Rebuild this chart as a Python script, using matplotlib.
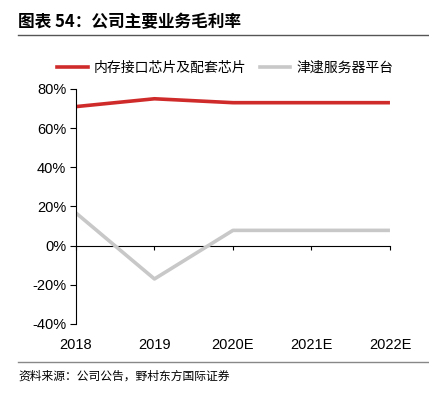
import matplotlib.pyplot as plt
from matplotlib.lines import Line2D

plt.rcParams['font.family'] = ['Liberation Sans', 'Noto Sans CJK SC', 'DejaVu Sans']

years = ['2018', '2019', '2020E', '2021E', '2022E']
memory_chip = [71.0, 75.0, 73.0, 73.0, 73.0]
jintide = [16.7, -17.0, 7.8, 7.8, 7.8]
yticks = [-40, -20, 0, 20, 40, 60, 80]

red = '#D02B2B'
grey = '#C8C8C8'

fig = plt.figure(figsize=(4.29, 3.99), dpi=100)
ax = fig.add_axes([0.177, 0.188, 0.732, 0.589])

x = range(len(years))
ax.plot(x, memory_chip, color=red, lw=2.6, solid_capstyle='butt')
ax.plot(x, jintide, color=grey, lw=2.6, solid_capstyle='butt')

ax.set_xlim(0, len(years) - 1)
ax.set_ylim(-40, 80)
ax.set_yticks(yticks)
ax.set_yticklabels([f'{v}%' for v in yticks], fontsize=10.5)
ax.tick_params(axis='y', direction='out', length=4, width=0.8, pad=3)

ax.set_xticks(list(x))
ax.set_xticklabels(years, fontsize=10.5)
ax.tick_params(axis='x', length=0, pad=10)

for s in ['top', 'right', 'bottom']:
    ax.spines[s].set_visible(False)
ax.spines['left'].set_linewidth(0.8)

# zero line with ticks
zero = ax.secondary_xaxis(1 / 3)
zero.set_xticks(list(x))
zero.set_xticklabels([])
zero.tick_params(direction='out', length=3, width=0.8)
zero.spines['bottom'].set_linewidth(0.8)

handles = [Line2D([], [], color=red, lw=2.6), Line2D([], [], color=grey, lw=2.6)]
fig.legend(handles, ['内存接口芯片及配套芯片', '津逮服务器平台'], loc='center',
           bbox_to_anchor=(0.525, 0.83), ncol=2, frameon=False,
           handlelength=2.2, handletextpad=0.4, columnspacing=1.0,
           prop={'family': ['Noto Sans CJK SC'], 'size': 10})

fig.text(0.042, 0.945, '图表 54：公司主要业务毛利率', fontsize=12, fontweight='bold',
         va='center', ha='left', family=['Noto Sans CJK SC', 'DejaVu Sans'])
fig.add_artist(Line2D([0.042, 1.0], [0.913, 0.913], color='#555555', lw=1.0))
fig.add_artist(Line2D([0.042, 1.0], [0.093, 0.093], color='#888888', lw=1.0))
fig.text(0.042, 0.058, '资料来源：公司公告，野村东方国际证券', fontsize=8.5,
         va='center', ha='left', family=['Noto Sans CJK SC', 'DejaVu Sans'])

fig.savefig('out.png', dpi=100)
